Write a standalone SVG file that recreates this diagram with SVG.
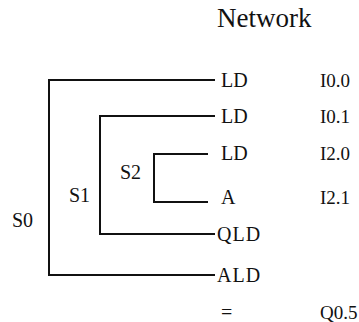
<svg xmlns="http://www.w3.org/2000/svg" width="359" height="322" viewBox="0 0 359 322">
  <style>
    text { font-family: "Liberation Serif", "Times New Roman", "DejaVu Serif", serif; font-size: 20px; fill: #111; }
    .title { font-size: 27px; }
    .op { font-size: 19px; }
    .wide { letter-spacing: 1px; }
    .br { fill: none; stroke: #111; stroke-width: 2; }
  </style>
  <rect width="359" height="322" fill="#ffffff"/>

  <text class="title" x="217" y="27">Network</text>

  <!-- nested stack brackets -->
  <g id="connectors">
    <polyline class="br" points="215,80 49,80 49,275 215,275"/>
    <polyline class="br" points="215,116 100,116 100,234 215,234"/>
    <polyline class="br" points="208,154 154,154 154,202 208,202"/>
  </g>

  <g id="stack-labels">
    <text x="120" y="179">S2</text>
    <text x="69" y="202">S1</text>
    <text x="12" y="227">S0</text>
  </g>

  <g id="row-ld1"><text x="221" y="87">LD</text><text class="op" x="320" y="87">I0.0</text></g>
  <g id="row-ld2"><text x="221" y="123">LD</text><text class="op" x="320" y="123">I0.1</text></g>
  <g id="row-ld3"><text x="221" y="160">LD</text><text class="op" x="320" y="160">I2.0</text></g>
  <g id="row-a"><text x="221" y="204">A</text><text class="op" x="320" y="204">I2.1</text></g>
  <g id="row-qld"><text class="wide" x="217" y="241">QLD</text></g>
  <g id="row-ald"><text class="wide" x="217" y="282">ALD</text></g>
  <g id="row-out"><text x="221" y="319">=</text><text class="op" x="320" y="319">Q0.5</text></g>
</svg>
